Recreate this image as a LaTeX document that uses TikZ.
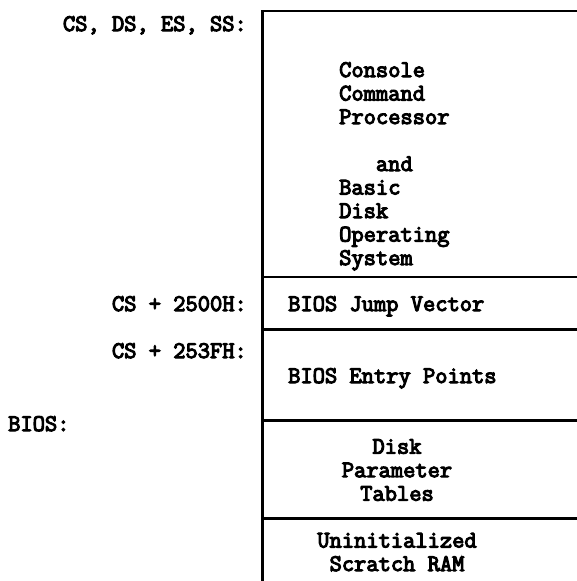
\documentclass[tikz,border=0pt]{standalone}
\usepackage{fontspec}
\newfontfamily\memfont[FakeBold=4.5]{Latin Modern Mono}
\usetikzlibrary{positioning}

\tikzset{
   memtext/.style={inner sep=0pt, font=\fontsize{23.8}{23.5}\selectfont\memfont},
   memline/.style={line width=2.6pt}
}

\begin{document}
\begin{tikzpicture}[x=1pt, y=-1pt]
            \useasboundingbox (0,0) rectangle (577,581);
            % Memory map: left edge, top edge and dividers
            \coordinate (topL) at (262.5,11);
            \coordinate (topR) at (577,11);
            \coordinate (botL) at (262.5,581);
            \draw[memline] (topR) -- (topL) -- (botL);
            \draw[memline] (262.5,277) -- (577,277);
            \draw[memline] (262.5,329.5) -- (577,329.5);
            \draw[memline] (262.5,420.5) -- (577,420.5);
            \draw[memline] (262.5,518.7) -- (577,518.7);
            % Segment addresses (right aligned on the colon)
            \node[memtext, anchor=base east] (segl) at (247,31) {CS, DS, ES, SS:};
            \node[memtext, anchor=base east] (jmpl) at (247,311) {CS + 2500H:};
            \node[memtext, anchor=base east] (entl) at (247,358) {CS + 253FH:};
            \node[memtext, anchor=base west] (biosl) at (8,431) {BIOS:};
            % Contents of the regions (base = last line)
            \node[memtext, anchor=base west, align=left] (ccp) at (339,265)
               {Console\\Command\\Processor\\[23.5pt]\phantom{aaa}and\\Basic\\Disk\\Operating\\System};
            \node[memtext, anchor=base west] (jmpvec) at (288,311) {BIOS Jump Vector};
            \node[memtext, anchor=base west] (entry) at (288,383) {BIOS Entry Points};
            \node[memtext, anchor=base, align=center] (dpt) at (397,500.7)
               {Disk\\Parameter\\Tables};
            \node[memtext, anchor=base, align=center] (scratch) at (397,571)
               {Uninitialized\\Scratch RAM};
         \end{tikzpicture}
\end{document}
